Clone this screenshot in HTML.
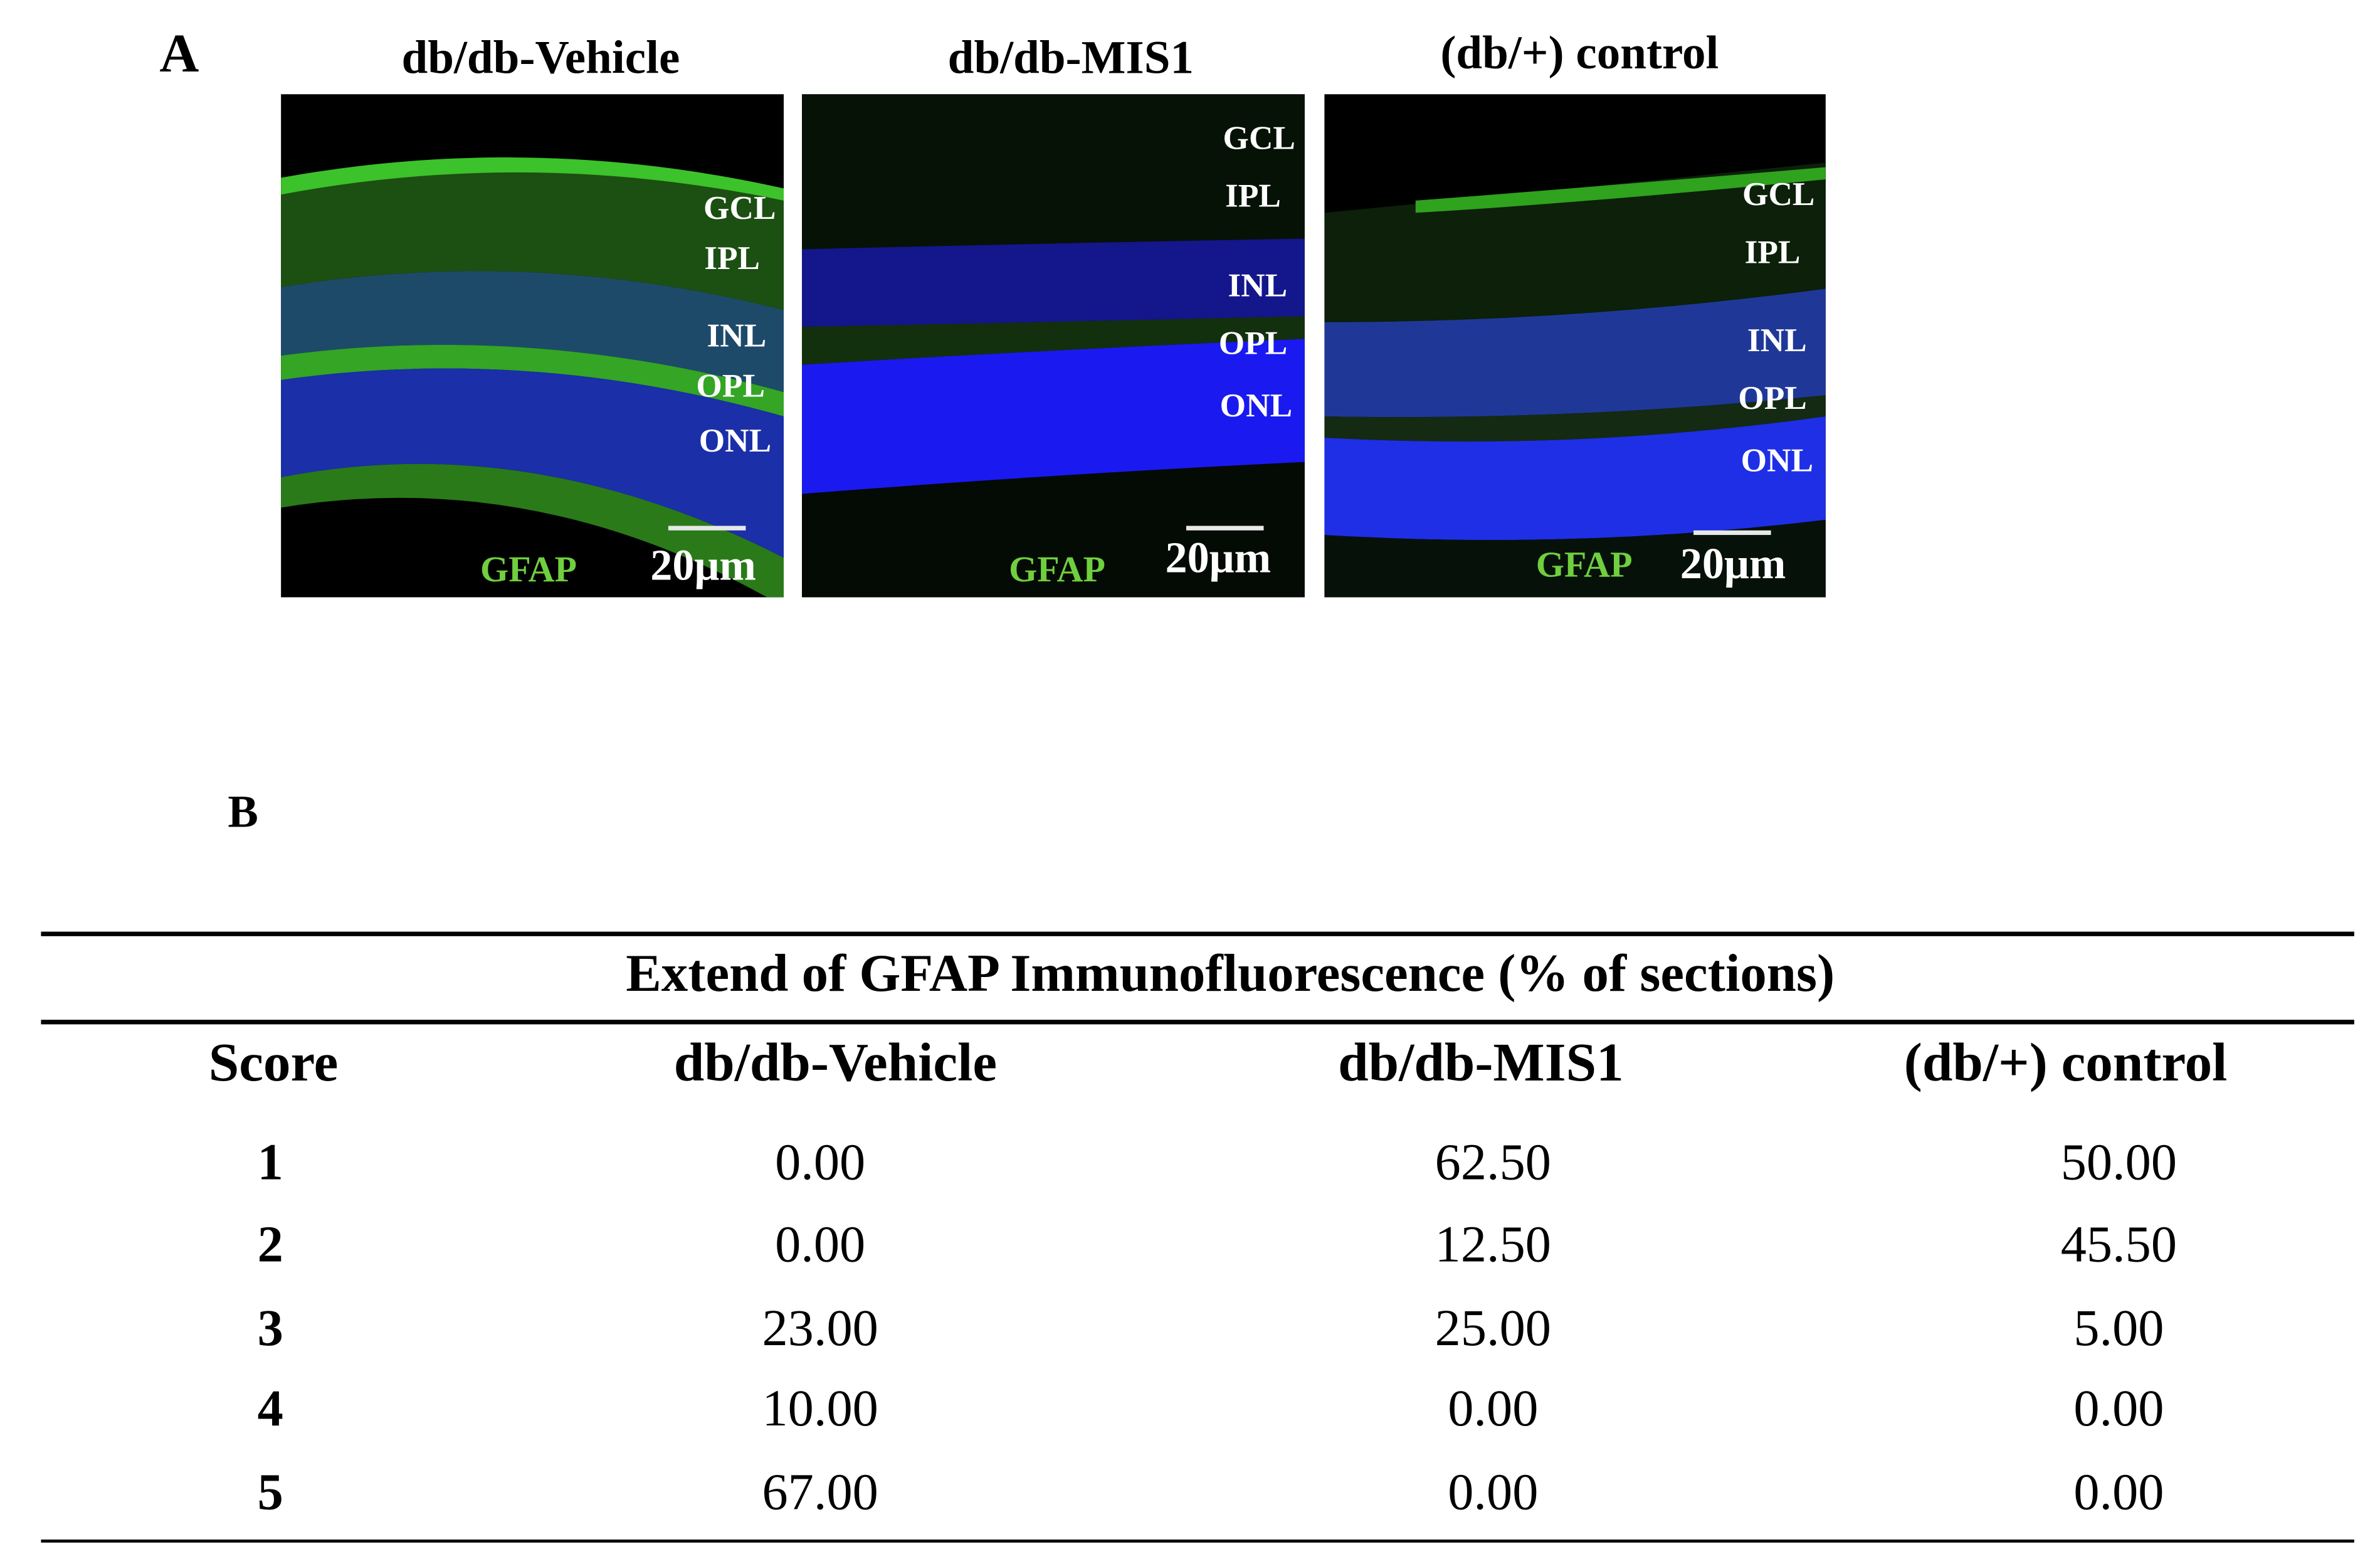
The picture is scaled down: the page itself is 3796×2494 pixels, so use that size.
<!DOCTYPE html>
<html><head><meta charset="utf-8">
<style>
html,body{margin:0;padding:0;background:#fff;}
body{width:3796px;height:2494px;overflow:hidden;position:relative;}
#stage{position:absolute;left:0;top:0;width:1560px;height:1025px;transform:scale(2.4225,2.4235);transform-origin:0 0;font-family:"Liberation Serif",serif;color:#000;}
.abs{position:absolute;white-space:nowrap;}
.c{transform:translate(-50%,-50%);}
.title{font-weight:bold;font-size:31px;}
.panel{position:absolute;width:331px;height:331px;top:62px;background:#000;}
.lbl{position:absolute;color:#fff;font-weight:bold;font-size:22px;transform:translate(-50%,-50%);}
.gfap{position:absolute;color:#6fcf3f;font-weight:bold;font-size:24px;transform:translate(-50%,-50%);}
.um{position:absolute;color:#fff;font-weight:bold;font-size:29px;transform:translate(-50%,-50%);}
.bar{position:absolute;height:3px;background:#e8e8e8;}
.rule{position:absolute;left:27px;width:1523px;background:#000;}
.cell{position:absolute;font-size:34px;transform:translate(-50%,-50%);white-space:nowrap;}
</style></head><body>
<div id="stage">
  <div class="abs c" style="left:118px;top:35px;font-size:36px;font-weight:bold;">A</div>
  <div class="abs c title" style="left:356px;top:38px;">db/db-Vehicle</div>
  <div class="abs c title" style="left:705px;top:38px;">db/db-MIS1</div>
  <div class="abs c title" style="left:1040px;top:35px;">(db/+) control</div>

  <div class="panel" style="left:185px;">
    <svg width="331" height="331" viewBox="0 0 331 331">
      <path d="M0,55 Q165,25 331,62 L331,142 Q165,100 0,127 Z" fill="#1c4f12"/>
      <path d="M0,55 Q165,25 331,62 L331,70 Q165,35 0,66 Z" fill="#3cc22a"/>
      <path d="M0,127 Q165,100 331,142 L331,196 Q165,150 0,172 Z" fill="#1e4a6a"/>
      <path d="M0,172 Q165,150 331,196 L331,212 Q165,165 0,188 Z" fill="#34a524"/>
      <path d="M0,188 Q165,165 331,212 L331,305 Q165,220 0,252 Z" fill="#1a2fa8"/>
      <path d="M0,252 Q165,220 331,305 L331,331 L320,331 Q165,245 0,272 Z" fill="#2a7a1a"/>
    </svg>
    <div class="lbl" style="left:302px;top:75px;">GCL</div>
    <div class="lbl" style="left:297px;top:108px;">IPL</div>
    <div class="lbl" style="left:300px;top:159px;">INL</div>
    <div class="lbl" style="left:296px;top:192px;">OPL</div>
    <div class="lbl" style="left:299px;top:228px;">ONL</div>
    <div class="bar" style="left:255px;top:284px;width:51px;"></div>
    <div class="gfap" style="left:163px;top:314px;">GFAP</div>
    <div class="um" style="left:278px;top:311px;">20μm</div>
  </div>

  <div class="panel" style="left:528px;">
    <svg width="331" height="331" viewBox="0 0 331 331">
      <path d="M0,0 L331,0 L331,95 Q165,98 0,102 Z" fill="#061206"/>
      <path d="M0,102 Q165,98 331,95 L331,146 Q165,150 0,153 Z" fill="#14168c"/>
      <path d="M0,153 Q165,150 331,146 L331,161 Q165,168 0,178 Z" fill="#13300e"/>
      <path d="M0,178 Q165,168 331,161 L331,242 Q165,250 0,263 Z" fill="#1a1af0"/>
      <path d="M0,263 Q165,250 331,242 L331,331 L0,331 Z" fill="#040a04"/>
    </svg>
    <div class="lbl" style="left:301px;top:29px;">GCL</div>
    <div class="lbl" style="left:297px;top:67px;">IPL</div>
    <div class="lbl" style="left:300px;top:126px;">INL</div>
    <div class="lbl" style="left:297px;top:164px;">OPL</div>
    <div class="lbl" style="left:299px;top:205px;">ONL</div>
    <div class="bar" style="left:253px;top:284px;width:51px;"></div>
    <div class="gfap" style="left:168px;top:314px;">GFAP</div>
    <div class="um" style="left:274px;top:306px;">20μm</div>
  </div>

  <div class="panel" style="left:872px;width:330px;">
    <svg width="330" height="331" viewBox="0 0 330 331">
      <path d="M0,78 Q165,62 330,45 L330,128 Q165,150 0,150 Z" fill="#0c200a"/>
      <path d="M60,70 Q165,62 330,48 L330,56 Q165,72 60,78 Z" fill="#2fa21e"/>
      <path d="M0,150 Q165,150 330,128 L330,198 Q165,215 0,212 Z" fill="#1f3898"/>
      <path d="M0,212 Q165,215 330,198 L330,212 Q165,235 0,226 Z" fill="#142a12"/>
      <path d="M0,226 Q165,235 330,212 L330,280 Q165,300 0,290 Z" fill="#1f2fe6"/>
      <path d="M0,290 Q165,300 330,280 L330,331 L0,331 Z" fill="#06110a"/>
    </svg>
    <div class="lbl" style="left:299px;top:66px;">GCL</div>
    <div class="lbl" style="left:295px;top:104px;">IPL</div>
    <div class="lbl" style="left:298px;top:162px;">INL</div>
    <div class="lbl" style="left:295px;top:200px;">OPL</div>
    <div class="lbl" style="left:298px;top:241px;">ONL</div>
    <div class="bar" style="left:243px;top:287px;width:51px;"></div>
    <div class="gfap" style="left:171px;top:311px;">GFAP</div>
    <div class="um" style="left:269px;top:310px;">20μm</div>
  </div>

  <div class="abs c" style="left:160px;top:535px;font-size:30px;font-weight:bold;">B</div>

  <div class="rule" style="top:613px;height:3px;"></div>
  <div class="cell" style="left:810px;top:641px;font-weight:bold;font-size:35px;">Extend of GFAP Immunofluorescence (% of sections)</div>
  <div class="rule" style="top:671px;height:3px;"></div>
  <div id="tbl"></div>
  <div class="rule" style="top:1013px;height:2px;"></div>
</div>
<script>
var headers = ["Score", "db/db-Vehicle", "db/db-MIS1", "(db/+) control"];
var scores = ["1", "2", "3", "4", "5"];
var vehicle = ["0.00", "0.00", "23.00", "10.00", "67.00"];
var mis1 = ["62.50", "12.50", "25.00", "0.00", "0.00"];
var control = ["50.00", "45.50", "5.00", "0.00", "0.00"];
(function(){
  var stage = document.getElementById('stage');
  var hx = [180, 550, 975, 1360];
  var vx = [178, 540, 983, 1395];
  var ry = [766, 820, 875, 928, 983];
  headers.forEach(function(h, i){
    var d = document.createElement('div');
    d.className = 'cell';
    d.style.left = hx[i] + 'px'; d.style.top = '699px'; d.style.fontWeight = 'bold'; d.style.fontSize = '36px';
    d.textContent = h;
    
    
    stage.appendChild(d);
  });
  var cols = [scores, vehicle, mis1, control];
  for (var r = 0; r < scores.length; r++) {
    for (var c = 0; c < 4; c++) {
      var d = document.createElement('div');
      d.className = 'cell';
      d.style.left = vx[c] + 'px'; d.style.top = ry[r] + 'px';
      if (c === 0) d.style.fontWeight = 'bold';
      d.textContent = cols[c][r];
      
      
      stage.appendChild(d);
    }
  }
})();
</script>
</body></html>
